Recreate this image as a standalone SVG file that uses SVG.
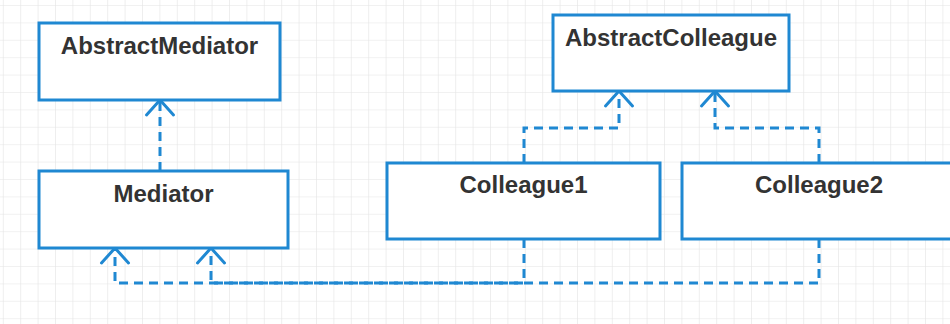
<svg xmlns="http://www.w3.org/2000/svg" width="950" height="324" viewBox="0 0 950 324">
  <defs>
    <pattern id="grid" x="2.8" y="5" width="17.4" height="17.4" patternUnits="userSpaceOnUse">
      <path d="M0,0 H17.4 M0,0 V17.4" fill="none" stroke="#e4e4e4" stroke-width="1.2"/>
    </pattern>
    <marker id="open" markerUnits="userSpaceOnUse" markerWidth="40" markerHeight="40" viewBox="-20 -20 40 40" refX="0" refY="0" orient="auto" overflow="visible">
      <path d="M-15,-13.5 L0,0 L-15,13.5" fill="none" stroke="#1f88d2" stroke-width="3" stroke-linecap="round" stroke-linejoin="round"/>
    </marker>
  </defs>
  <style>
    .box { fill: #ffffff; stroke: #1f88d2; stroke-width: 3; }
    .label { font-family: "Liberation Sans", Arial, sans-serif; font-weight: bold; font-size: 24px; fill: #333333; text-anchor: middle; }
    .dep { fill: none; stroke: #1f88d2; stroke-width: 3; stroke-dasharray: 9 6; marker-end: url(#open); }
  </style>
  <rect x="0" y="0" width="950" height="324" fill="#ffffff"/>
  <rect x="0" y="0" width="950" height="324" fill="url(#grid)"/>

  <g id="connectors">
    <path class="dep" d="M160,171 V100"/>
    <path class="dep" d="M524,163 V128 H619 V91"/>
    <path class="dep" d="M819,163 V128 H715 V91"/>
    <path class="dep" d="M524,239 V283 H211 V248"/>
    <path class="dep" d="M819,239 V283 H115 V248"/>
  </g>

  <g id="AbstractMediator">
    <rect class="box" x="39" y="23" width="241" height="77"/>
    <text class="label" x="159.5" y="54">AbstractMediator</text>
  </g>
  <g id="Mediator">
    <rect class="box" x="39" y="171" width="249" height="77"/>
    <text class="label" x="163.5" y="202">Mediator</text>
  </g>
  <g id="AbstractColleague">
    <rect class="box" x="553" y="15" width="236" height="76"/>
    <text class="label" x="671" y="46">AbstractColleague</text>
  </g>
  <g id="Colleague1">
    <rect class="box" x="387" y="163" width="273" height="76"/>
    <text class="label" x="523.5" y="193">Colleague1</text>
  </g>
  <g id="Colleague2">
    <rect class="box" x="682" y="163" width="274" height="76"/>
    <text class="label" x="819" y="193">Colleague2</text>
  </g>
</svg>
